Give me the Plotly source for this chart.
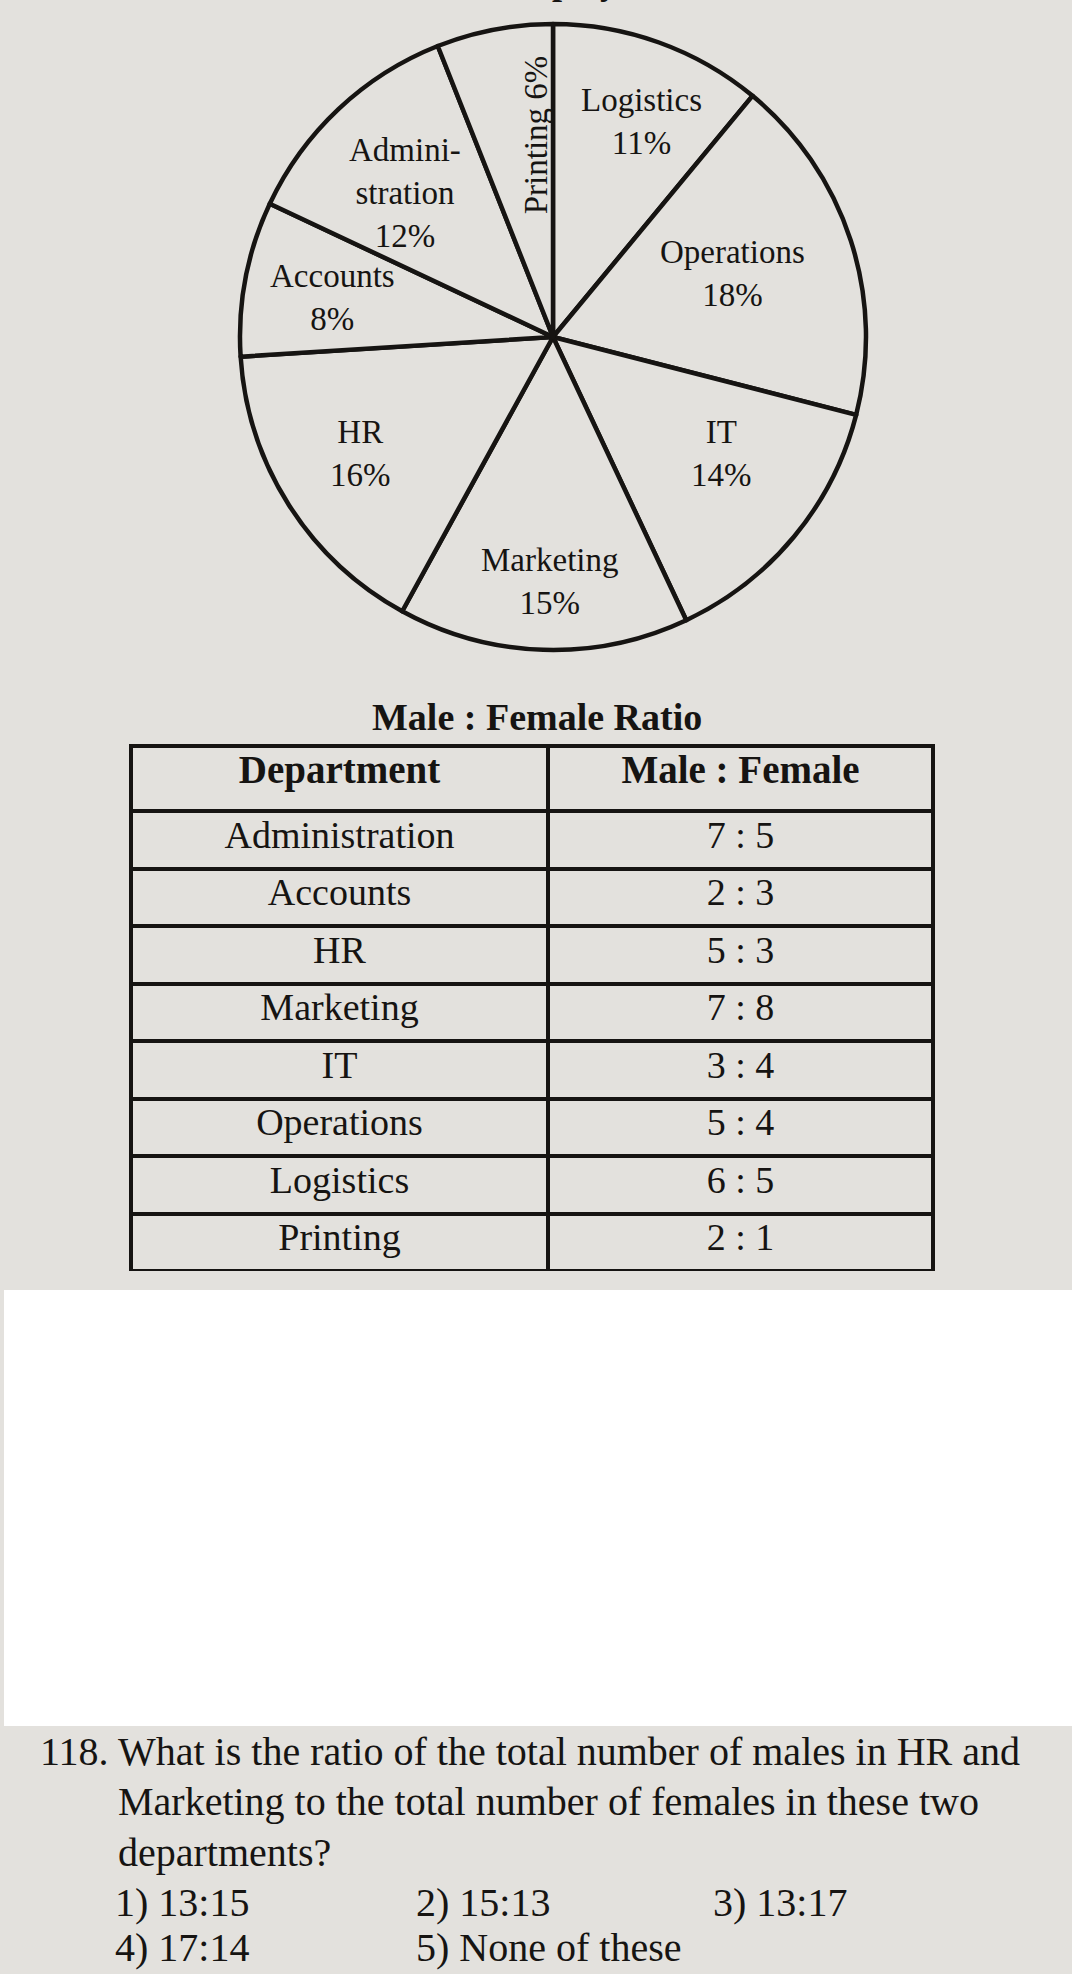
import math
import plotly.graph_objects as go

# ---------------- data ----------------
departments = ["Logistics", "Operations", "IT", "Marketing", "HR", "Accounts", "Administration", "Printing"]
shares = [11, 18, 14, 15, 16, 8, 12, 6]
pie_names = ["Logistics", "Operations", "IT", "Marketing", "HR", "Accounts", "Admini-<br>stration", "Printing"]

table_departments = ["Administration", "Accounts", "HR", "Marketing", "IT", "Operations", "Logistics", "Printing"]
male_parts = [7, 2, 5, 7, 3, 5, 6, 2]
female_parts = [5, 3, 3, 8, 4, 4, 5, 1]
table_headers = ["Department", "Male : Female"]
table_title = "Male : Female Ratio"

question_number = "118."
question_lines = [
    "What is the ratio of the total number of males in HR and",
    "Marketing to the total number of females in these two",
    "departments?",
]
options_row1 = ["1) 13:15", "2) 15:13", "3) 13:17"]
options_row2 = ["4) 17:14", "5) None of these"]

# ---------------- layout / style ----------------
W, H = 1072, 1974
BG = "#e3e1dd"
INK = "#161412"
SERIF = "Liberation Serif"

def px(x):
    return x / W

def py(y):
    return 1 - y / H

# pie geometry (pixels)
CX, CY, R = 553, 337, 313
label_radius = [0.745, 0.61, 0.655, 0.78, 0.72, 0.716, 0.66, 0.65]
label_angle_shift = [2.5, -1.5, -5, -1, 1.3, -0.7, -2.7, 6]

fig = go.Figure()

fig.add_trace(go.Pie(
    values=shares,
    labels=departments,
    sort=False,
    direction="clockwise",
    rotation=0,
    textinfo="none",
    hoverinfo="label+percent",
    marker=dict(colors=[BG] * len(shares), line=dict(color=INK, width=4.5)),
    domain=dict(x=[px(CX - R), px(CX + R)], y=[py(CY + R), py(CY - R)]),
    showlegend=False,
))

annotations = []
cum = 0
for i, (name, v) in enumerate(zip(pie_names, shares)):
    mid = 360 * (cum + v / 2) / sum(shares) + label_angle_shift[i]
    cum += v
    r = label_radius[i] * R
    x = CX + r * math.sin(math.radians(mid))
    y = CY - r * math.cos(math.radians(mid))
    if departments[i] == "Printing":
        text, angle = f"{name} {v}%", -90
    else:
        text, angle = f"{name}<br>{v}%", 0
    annotations.append(dict(
        x=px(x), y=py(y), xref="paper", yref="paper", text=text, showarrow=False,
        textangle=angle, xanchor="center", yanchor="middle", align="center",
        font=dict(family=SERIF, size=33, color=INK),
    ))

# partially visible chart title at the very top (only descenders show)
annotations.append(dict(
    x=px(496), y=py(4), xref="paper", yref="paper", text="Employees", showarrow=False,
    xanchor="left", yanchor="bottom", font=dict(family=SERIF, size=36, color=INK, weight="bold"),
))

# table
TX0, TX1, TY0, TY1 = 131, 933, 746, 1271
header_h = 65
cell_h = (TY1 - TY0 - header_h) / len(table_departments)
ratios = [f"{m} : {f}" for m, f in zip(male_parts, female_parts)]

fig.add_trace(go.Table(
    columnwidth=[417, 385],
    domain=dict(x=[px(TX0), px(TX1)], y=[py(TY1), py(TY0)]),
    header=dict(
        values=table_headers, height=header_h, align="center",
        fill_color=BG, line=dict(color=INK, width=4),
        font=dict(family=SERIF, size=39, color=INK, weight="bold"),
    ),
    cells=dict(
        values=[table_departments, ratios], height=cell_h, align="center",
        fill_color=BG, line=dict(color=INK, width=4),
        font=dict(family=SERIF, size=38, color=INK),
    ),
))

annotations.append(dict(
    x=px(537), y=py(717), xref="paper", yref="paper", text=table_title, showarrow=False,
    xanchor="center", yanchor="middle", font=dict(family=SERIF, size=38, color=INK, weight="bold"),
))

# question text
QFONT = dict(family=SERIF, size=40, color=INK)
line_y = [1751, 1801, 1852, 1902, 1947]
annotations.append(dict(x=px(38), y=py(line_y[0]), xref="paper", yref="paper", text=question_number,
                        showarrow=False, xanchor="left", yanchor="middle", font=QFONT))
for i, t in enumerate(question_lines):
    annotations.append(dict(x=px(116), y=py(line_y[i]), xref="paper", yref="paper", text=t,
                            showarrow=False, xanchor="left", yanchor="middle", font=QFONT))
opt_x = [113, 414, 711]
for j, t in enumerate(options_row1):
    annotations.append(dict(x=px(opt_x[j]), y=py(line_y[3]), xref="paper", yref="paper", text=t,
                            showarrow=False, xanchor="left", yanchor="middle", font=QFONT))
for j, t in enumerate(options_row2):
    annotations.append(dict(x=px(opt_x[j]), y=py(line_y[4]), xref="paper", yref="paper", text=t,
                            showarrow=False, xanchor="left", yanchor="middle", font=QFONT))

shapes = [dict(type="rect", xref="paper", yref="paper", x0=px(4), x1=1.0, y0=py(1726), y1=py(1290),
               fillcolor="#ffffff", line=dict(width=0), layer="below")]

fig.update_layout(
    width=W, height=H,
    margin=dict(l=0, r=0, t=0, b=0),
    paper_bgcolor=BG, plot_bgcolor=BG,
    annotations=annotations,
    shapes=shapes,
)

fig.write_html("out.html")
